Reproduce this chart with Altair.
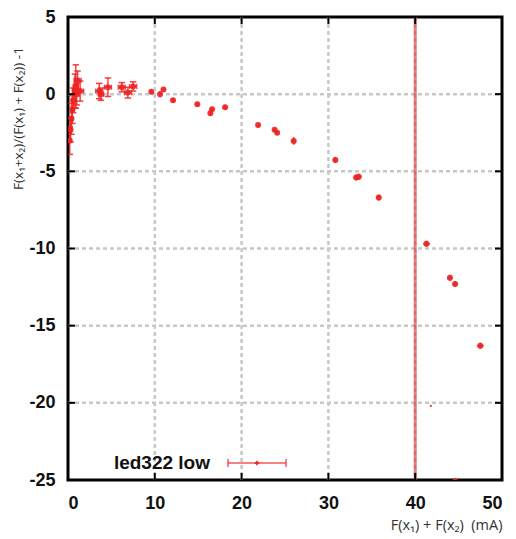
import altair as alt
import pandas as pd

# ---- data ----
xs = [0.2, 0.3, 0.4, 0.5, 0.6, 0.8, 0.9, 1.0, 1.1, 1.4,
      3.6, 3.8, 4.6, 6.2, 6.9, 7.5, 9.6, 10.6, 11.0, 12.1,
      14.9, 16.4, 16.6, 18.1, 21.9, 23.8, 24.1, 26.0, 30.8, 33.2,
      33.5, 35.8, 41.3, 44.0, 44.6, 47.5, 44.6]
ys = [-3.0, -2.3, -1.6, -1.0, -0.4, 0.2, 0.5, 0.0, 0.9, 0.2,
      0.2, 0.0, 0.45, 0.45, 0.1, 0.5, 0.15, 0.0, 0.3, -0.4,
      -0.65, -1.23, -0.97, -0.84, -2.0, -2.3, -2.5, -3.03, -4.26, -5.4,
      -5.35, -6.7, -9.7, -11.9, -12.3, -16.3, -25.1]
xerrs = [0.1, 0.1, 0.15, 0.2, 0.2, 0.3, 0.3, 0.3, 0.4, 0.4,
         0.4, 0.3, 0.4, 0.4, 0.4, 0.4, 0.2, 0.2, 0.2, 0.2,
         0.2, 0.2, 0.2, 0.2, 0.2, 0.2, 0.2, 0.3, 0.3, 0.3,
         0.3, 0.3, 0.4, 0.3, 0.3, 0.4, 0.3]
yerrs = [0.9, 0.8, 1.0, 0.9, 0.8, 1.1, 1.4, 0.7, 0.6, 0.65,
         0.5, 0.4, 0.6, 0.3, 0.35, 0.3, 0.15, 0.2, 0.15, 0.15,
         0.15, 0.15, 0.15, 0.15, 0.15, 0.15, 0.15, 0.25, 0.2, 0.2,
         0.2, 0.2, 0.2, 0.2, 0.2, 0.2, 0.2]
stray_x = [41.8]
stray_y = [-20.2]

x_ticks = [0, 10, 20, 30, 40, 50]
y_ticks = [5, 0, -5, -10, -15, -20, -25]
inner_x = [10, 20, 30, 40]
inner_y = [0, -5, -10, -15, -20]
vline_x = [40]

series_name = "led322 low"
x_title = "F(x\u2081) + F(x\u2082)\u00a0\u00a0(mA)"
y_title = "F(x\u2081+x\u2082)/(F(x\u2081) + F(x\u2082)) -1"

W, H = 434, 463
RED = "#ee2222"

df = pd.DataFrame({"x": xs, "y": ys, "xe": xerrs, "ye": yerrs})
df["xlo"] = df["x"] - df["xe"]
df["xhi"] = df["x"] + df["xe"]
df["ylo"] = df["y"] - df["ye"]
df["yhi"] = df["y"] + df["ye"]

xscale = alt.Scale(domain=[0, 50], nice=False, zero=False)
yscale = alt.Scale(domain=[-25, 5], nice=False, zero=False)

label_font = "Liberation Sans"
title_font = "Open Sans"

xaxis = alt.Axis(values=x_ticks, title=x_title, grid=False, domain=False, ticks=False,
                 labelFont=label_font, labelFontSize=18, labelFontWeight="bold",
                 labelColor="#111111", labelPadding=14, labelExpr="'' + datum.value",
                 titleFont=title_font, titleFontSize=14.5, titleFontWeight="normal",
                 titleColor="#333333", titleX=W, titleY=45, titleAlign="right",
                 titleBaseline="middle", titleAnchor="end")
yaxis = alt.Axis(values=y_ticks, title=y_title, grid=False, domain=False, ticks=False,
                 labelFont=label_font, labelFontSize=18, labelFontWeight="bold",
                 labelColor="#111111", labelPadding=13, labelExpr="'' + datum.value",
                 titleFont=title_font, titleFontSize=13.5, titleFontWeight="normal",
                 titleColor="#333333", titleX=-50, titleY=101, titleAngle=-90,
                 titleAlign="center", titleBaseline="middle", titleAnchor="middle")

base = alt.Chart(df)

# axes carrier (invisible)
axes_layer = base.mark_point(opacity=0).encode(
    x=alt.X("x:Q", scale=xscale, axis=xaxis),
    y=alt.Y("y:Q", scale=yscale, axis=yaxis),
)

# dotted grid (interior lines only)
tx = alt.Chart(pd.DataFrame({"t": inner_x}))
ty = alt.Chart(pd.DataFrame({"t": inner_y}))
grid_x = tx.mark_rule(color="#c8c8c8", strokeWidth=2.5, strokeDash=[4, 3]).encode(
    x=alt.X("t:Q", scale=xscale), y=alt.value(0), y2=alt.value(H))
grid_y = ty.mark_rule(color="#c8c8c8", strokeWidth=2.5, strokeDash=[4, 3]).encode(
    y=alt.Y("t:Q", scale=yscale), x=alt.value(0), x2=alt.value(W))

vline = alt.Chart(pd.DataFrame({"v": vline_x})).mark_rule(
    color="#d83a3a", strokeWidth=3, opacity=0.65
).encode(x=alt.X("v:Q", scale=xscale), y=alt.value(0), y2=alt.value(H))

yerr_rule = base.mark_rule(color=RED, strokeWidth=1.5, opacity=0.85, clip=True).encode(
    x=alt.X("x:Q", scale=xscale), y=alt.Y("ylo:Q", scale=yscale), y2="yhi:Q")
xerr_rule = base.mark_rule(color=RED, strokeWidth=1.5, opacity=0.85, clip=True).encode(
    y=alt.Y("y:Q", scale=yscale), x=alt.X("xlo:Q", scale=xscale), x2="xhi:Q")

big = base.transform_filter("datum.ye >= 0.3")
cap_top = big.mark_point(shape="stroke", size=42, color=RED, strokeWidth=1.5,
                         opacity=0.85, clip=True).encode(
    x=alt.X("x:Q", scale=xscale), y=alt.Y("yhi:Q", scale=yscale))
cap_bot = big.mark_point(shape="stroke", size=42, color=RED, strokeWidth=1.5,
                         opacity=0.85, clip=True).encode(
    x=alt.X("x:Q", scale=xscale), y=alt.Y("ylo:Q", scale=yscale))
cap_l = big.mark_point(shape="stroke", size=25, angle=90, color=RED, strokeWidth=1.5,
                       opacity=0.85, clip=True).encode(
    x=alt.X("xlo:Q", scale=xscale), y=alt.Y("y:Q", scale=yscale))
cap_r = big.mark_point(shape="stroke", size=25, angle=90, color=RED, strokeWidth=1.5,
                       opacity=0.85, clip=True).encode(
    x=alt.X("xhi:Q", scale=xscale), y=alt.Y("y:Q", scale=yscale))

pts = base.mark_point(filled=True, size=36, color=RED, opacity=0.9, clip=True).encode(
    x=alt.X("x:Q", scale=xscale), y=alt.Y("y:Q", scale=yscale))

stray = alt.Chart(pd.DataFrame({"x": stray_x, "y": stray_y})).mark_point(
    filled=True, size=5, color=RED, opacity=0.9).encode(
    x=alt.X("x:Q", scale=xscale), y=alt.Y("y:Q", scale=yscale))

# inward ticks
tick_b = tx.mark_rule(color="black", strokeWidth=2).encode(
    x=alt.X("t:Q", scale=xscale), y=alt.value(H), y2=alt.value(H - 7))
tick_t = tx.mark_rule(color="black", strokeWidth=2).encode(
    x=alt.X("t:Q", scale=xscale), y=alt.value(0), y2=alt.value(7))
tick_l = ty.mark_rule(color="black", strokeWidth=2).encode(
    y=alt.Y("t:Q", scale=yscale), x=alt.value(0), x2=alt.value(7))
tick_r = ty.mark_rule(color="black", strokeWidth=2).encode(
    y=alt.Y("t:Q", scale=yscale), x=alt.value(W), x2=alt.value(W - 7))

# legend
leg = alt.Chart(pd.DataFrame({"name": [series_name]}))
leg_text = leg.mark_text(align="right", baseline="middle", font=label_font,
                         fontSize=19, fontWeight="bold", color="#111111").encode(
    text="name:N", x=alt.value(142), y=alt.value(446))
leg_line = leg.mark_rule(color=RED, strokeWidth=1.5, opacity=0.75).encode(
    x=alt.value(160), x2=alt.value(218), y=alt.value(446))
leg_cap1 = leg.mark_rule(color=RED, strokeWidth=1.5, opacity=0.75).encode(
    x=alt.value(160), y=alt.value(442), y2=alt.value(450))
leg_cap2 = leg.mark_rule(color=RED, strokeWidth=1.5, opacity=0.75).encode(
    x=alt.value(218), y=alt.value(442), y2=alt.value(450))
leg_pt = leg.mark_point(shape="cross", filled=True, size=20, color=RED, opacity=0.9).encode(
    x=alt.value(189), y=alt.value(446))

chart = alt.layer(
    axes_layer, grid_x, grid_y, vline, yerr_rule, xerr_rule, cap_top, cap_bot, cap_l,
    cap_r, pts, stray, tick_b, tick_t, tick_l, tick_r,
    leg_text, leg_line, leg_cap1, leg_cap2, leg_pt,
).properties(
    width=W, height=H,
    autosize=alt.AutoSizeParams(type="none"),
    padding={"left": 60, "top": 9, "right": 6, "bottom": 58},
).configure_view(stroke="black", strokeWidth=3)

chart.save("out.html", embed_options={"renderer": "svg", "actions": False})
